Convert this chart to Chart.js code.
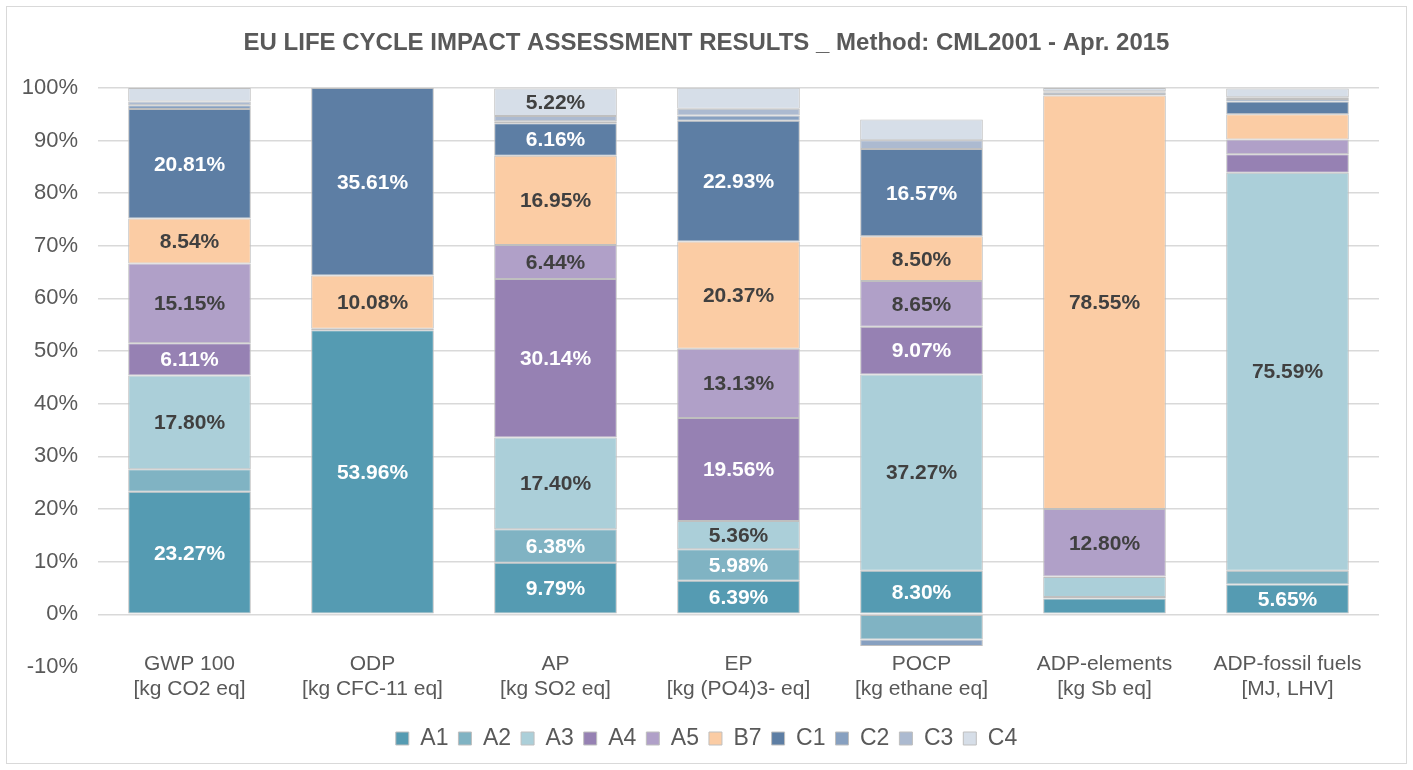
<!DOCTYPE html>
<html lang="en">
<head>
    <meta charset="UTF-8">
    <title>EU Life Cycle Impact Assessment Results</title>
    <script src="https://cdn.jsdelivr.net/npm/chart.js"></script>
    <style>
        body { margin: 0; background: #fff; }
        #wrap { position: relative; width: 1413px; height: 770px; }
        #frame { position: absolute; left: 6px; top: 6px; width: 1399px; height: 756px; border: 1px solid #d9d9d9; pointer-events: none; }
    </style>
</head>
<body>
<div id="wrap">
    <canvas id="lcaChart" width="1413" height="770"></canvas>
    <div id="frame"></div>
</div>
<script>
    // categories (impact indicators)
    const categories = [
        ['GWP 100', '[kg CO2 eq]'],
        ['ODP', '[kg CFC-11 eq]'],
        ['AP', '[kg SO2 eq]'],
        ['EP', '[kg (PO4)3- eq]'],
        ['POCP', '[kg ethane eq]'],
        ['ADP-elements', '[kg Sb eq]'],
        ['ADP-fossil fuels', '[MJ, LHV]']
    ];

    // share of each life cycle stage, in %
    const A1 = [23.27, 53.96, 9.79, 6.39, 8.30, 3.0, 5.65];
    const A2 = [4.3, 0.3, 6.38, 5.98, -4.8, 0.3, 2.65];
    const A3 = [17.80, 0, 17.40, 5.36, 37.27, 3.8, 75.59];
    const A4 = [6.11, 0, 30.14, 19.56, 9.07, 0.1, 3.5];
    const A5 = [15.15, 0, 6.44, 13.13, 8.65, 12.80, 2.8];
    const B7 = [8.54, 10.08, 16.95, 20.37, 8.50, 78.55, 4.8];
    const C1 = [20.81, 35.61, 6.16, 22.93, 16.57, 0.1, 2.4];
    const C2 = [0.7, 0.05, 0.4, 1.0, -1.2, 0.4, 0.5];
    const C3 = [0.7, 0, 1.0, 1.3, 1.7, 0.3, 0.3];
    const C4 = [2.6, 0, 5.22, 4.0, 3.9, 0.6, 1.7];

    const stageNames = ['A1', 'A2', 'A3', 'A4', 'A5', 'B7', 'C1', 'C2', 'C3', 'C4'];
    const stageValues = [A1, A2, A3, A4, A5, B7, C1, C2, C3, C4];
    const stageColors = ['#559bb2', '#80b3c3', '#abcfd9', '#9681b3', '#b0a0c8',
                         '#fbcca4', '#5d7ea4', '#87a0c0', '#acbad0', '#d6dee8'];
    const whiteLabels = ['A1', 'A2', 'A4', 'C1'];

    const yTicks = [-10, 0, 10, 20, 30, 40, 50, 60, 70, 80, 90, 100];

    const textGrey = '#595959';
    const fontFamily = '"Liberation Sans", Arial, sans-serif';

    // draws the % value inside the bigger segments
    const segmentLabels = {
        id: 'segmentLabels',
        afterDraw(chart) {
            let ctx = chart.ctx;
            ctx.save();
            ctx.font = 'bold 21px ' + fontFamily;
            ctx.textAlign = 'center';
            ctx.textBaseline = 'middle';
            chart.data.datasets.forEach((ds, i) => {
                let meta = chart.getDatasetMeta(i);
                meta.data.forEach((bar, j) => {
                    let v = ds.data[j];
                    if (Math.abs(v) < 5) return;
                    ctx.fillStyle = whiteLabels.includes(ds.label) ? '#ffffff' : '#404040';
                    ctx.fillText(v.toFixed(2) + '%', bar.x, (bar.y + bar.base) / 2 + 1);
                });
            });
            ctx.restore();
        }
    };

    // category labels sit over the bottom of the plot area, like in Excel
    const categoryLabels = {
        id: 'categoryLabels',
        afterDraw(chart) {
            let ctx = chart.ctx;
            let xScale = chart.scales.x;
            let bottom = chart.chartArea.bottom;
            ctx.save();
            ctx.font = '21px ' + fontFamily;
            ctx.fillStyle = textGrey;
            ctx.textAlign = 'center';
            ctx.textBaseline = 'middle';
            chart.data.labels.forEach((lines, i) => {
                let x = xScale.getPixelForTick(i);
                lines.forEach((line, k) => ctx.fillText(line, x, bottom - 3 + k * 25));
            });
            ctx.restore();
        }
    };

    let ctx = document.getElementById('lcaChart').getContext('2d');
    new Chart(ctx, {
        type: 'bar',
        data: {
            labels: categories,
            datasets: stageNames.map((name, i) => ({
                label: name,
                data: stageValues[i],
                backgroundColor: stageColors[i],
                borderColor: '#bfbfbf',
                borderWidth: 1,
                borderSkipped: false,
                barPercentage: 1,
                categoryPercentage: 0.67
            }))
        },
        options: {
            responsive: false,
            animation: false,
            layout: { padding: { left: 0, right: 0, top: 0, bottom: 10 } },
            scales: {
                x: {
                    stacked: true,
                    grid: { display: false },
                    border: { display: false },
                    afterFit: axis => { axis.height = 50; },
                    ticks: { display: false }
                },
                y: {
                    stacked: true,
                    min: -10,
                    max: 100,
                    z: 1,
                    afterFit: axis => { axis.width = 98; },
                    afterBuildTicks: axis => { axis.ticks = yTicks.map(v => ({ value: v })); },
                    grid: {
                        color: c => c.tick && c.tick.value === -10 ? 'rgba(0,0,0,0)' : 'rgba(0,0,0,0.15)',
                        lineWidth: 1.5,
                        drawTicks: false
                    },
                    border: { display: false },
                    ticks: {
                        color: textGrey,
                        font: { family: fontFamily, size: 22 },
                        padding: 20,
                        callback: v => v + '%'
                    }
                },
                // empty right axis, only keeps a margin so title and legend stay centred on the page
                yRight: {
                    position: 'right',
                    display: true,
                    afterFit: axis => { axis.width = 34; },
                    grid: { display: false },
                    border: { display: false },
                    ticks: { display: false }
                }
            },
            plugins: {
                title: {
                    display: true,
                    text: 'EU LIFE CYCLE IMPACT ASSESSMENT RESULTS _ Method: CML2001 - Apr. 2015',
                    color: textGrey,
                    font: { family: fontFamily, size: 24, weight: 'bold' },
                    padding: { top: 29, bottom: 30 }
                },
                legend: {
                    position: 'bottom',
                    labels: {
                        color: textGrey,
                        font: { family: fontFamily, size: 23 },
                        boxWidth: 13,
                        boxHeight: 13,
                        padding: 10
                    }
                },
                tooltip: { enabled: false }
            }
        },
        plugins: [segmentLabels, categoryLabels]
    });
</script>
</body>
</html>
